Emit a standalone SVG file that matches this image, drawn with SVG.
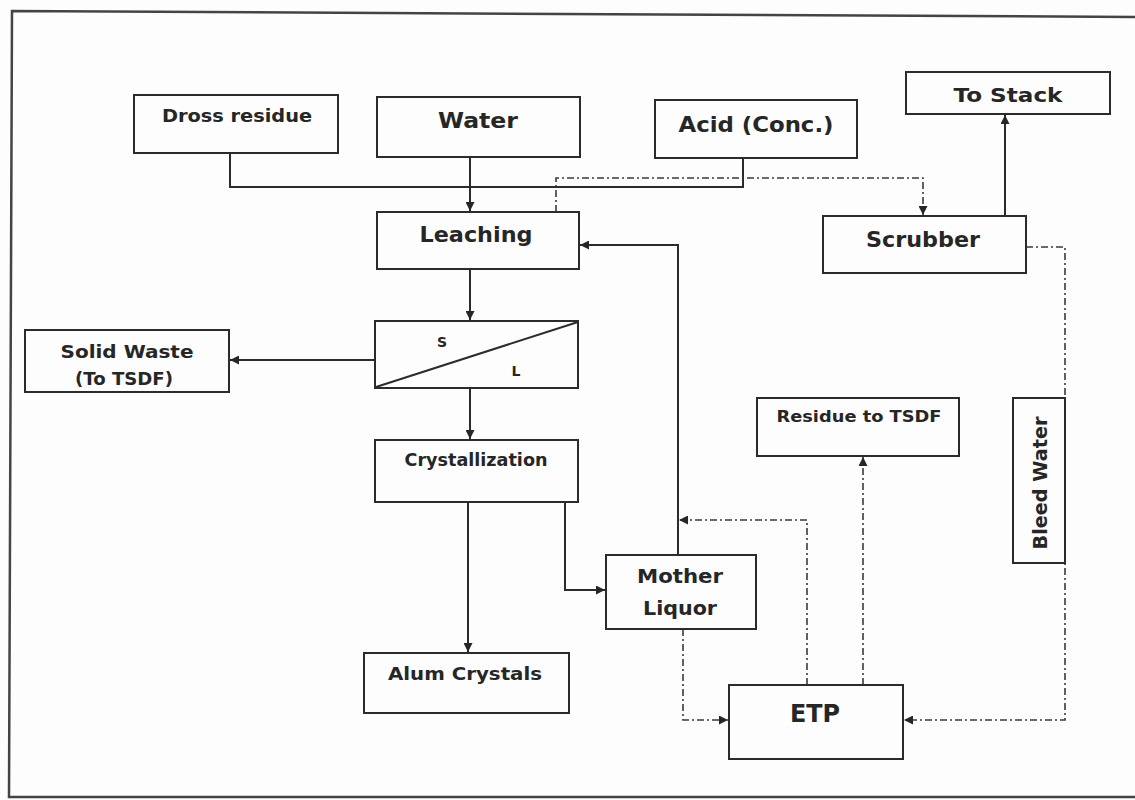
<svg xmlns="http://www.w3.org/2000/svg" width="1135" height="800" viewBox="0 0 1135 800">
<defs>
<style>
.box{fill:#fdfdfd;stroke:#2b2b2b;stroke-width:2}
.t{font-family:"DejaVu Sans","Liberation Sans",sans-serif;font-weight:bold;fill:#262626;text-anchor:middle}
.c{fill:none;stroke:#2b2b2b;stroke-width:2}
.d{fill:none;stroke:#3a3a3a;stroke-width:1.6;stroke-dasharray:7 3 2 3}
</style>
<marker id="ar" viewBox="0 0 10 10" refX="10" refY="5" markerWidth="9" markerHeight="9" markerUnits="userSpaceOnUse" orient="auto">
<path d="M0,0 L10,5 L0,10 z" fill="#262626"/>
</marker>
</defs>
<rect x="0" y="0" width="1135" height="800" fill="#fdfdfd"/>
<path d="M1135,17 L12,11 L9,797 L1135,797" fill="none" stroke="#444" stroke-width="2.5"/>

<g id="connectors">
<path class="c" d="M230,153 V187 H743 V158"/>
<path class="c" d="M470,157 V211" marker-end="url(#ar)"/>
<path class="c" d="M470,269 V320" marker-end="url(#ar)"/>
<path class="c" d="M375,360 H230" marker-end="url(#ar)"/>
<path class="c" d="M470,388 V439" marker-end="url(#ar)"/>
<path class="c" d="M468,502 V652" marker-end="url(#ar)"/>
<path class="c" d="M565,502 V590 H605" marker-end="url(#ar)"/>
<path class="c" d="M678,555 V245 H580" marker-end="url(#ar)"/>
<path class="c" d="M1005,216 V115" marker-end="url(#ar)"/>
<path class="d" d="M556,212 V178 H923 V215" marker-end="url(#ar)"/>
<path class="d" d="M1026,247 H1065 V720 H904" marker-end="url(#ar)"/>
<path class="d" d="M807,685 V520 H679" marker-end="url(#ar)"/>
<path class="d" d="M863,685 V457" marker-end="url(#ar)"/>
<path class="d" d="M683,629 V720 H728" marker-end="url(#ar)"/>
</g>

<g id="dross">
<rect class="box" x="134" y="95" width="204" height="58"/>
<text class="t" x="237" y="122" font-size="17" textLength="150" lengthAdjust="spacingAndGlyphs">Dross residue</text>
</g>
<g id="water">
<rect class="box" x="377" y="97" width="203" height="60"/>
<text class="t" x="478" y="128" font-size="21" textLength="80" lengthAdjust="spacingAndGlyphs">Water</text>
</g>
<g id="acid">
<rect class="box" x="655" y="100" width="202" height="58"/>
<text class="t" x="756" y="132" font-size="21" textLength="155" lengthAdjust="spacingAndGlyphs">Acid (Conc.)</text>
</g>
<g id="tostack">
<rect class="box" x="906" y="72" width="204" height="42"/>
<text class="t" x="1008" y="102" font-size="20" textLength="109" lengthAdjust="spacingAndGlyphs">To Stack</text>
</g>
<g id="leaching">
<rect class="box" x="377" y="212" width="202" height="57"/>
<text class="t" x="476" y="242" font-size="21" textLength="113" lengthAdjust="spacingAndGlyphs">Leaching</text>
</g>
<g id="scrubber">
<rect class="box" x="823" y="216" width="203" height="57"/>
<text class="t" x="923" y="247" font-size="21" textLength="114" lengthAdjust="spacingAndGlyphs">Scrubber</text>
</g>
<g id="separator">
<rect class="box" x="375" y="321" width="203" height="67"/>
<line x1="376" y1="387" x2="578" y2="322" stroke="#2b2b2b" stroke-width="2"/>
<text class="t" x="442" y="347" font-size="14">S</text>
<text class="t" x="516" y="376" font-size="14">L</text>
</g>
<g id="solidwaste">
<rect class="box" x="25" y="330" width="204" height="62"/>
<text class="t" x="127" y="358" font-size="17" textLength="133" lengthAdjust="spacingAndGlyphs">Solid Waste</text>
<text class="t" x="124" y="385" font-size="17" textLength="98" lengthAdjust="spacingAndGlyphs">(To TSDF)</text>
</g>
<g id="crystallization">
<rect class="box" x="375" y="440" width="203" height="62"/>
<text class="t" x="476" y="466" font-size="17" textLength="143" lengthAdjust="spacingAndGlyphs">Crystallization</text>
</g>
<g id="motherliquor">
<rect class="box" x="606" y="555" width="150" height="74"/>
<text class="t" x="680" y="583" font-size="19" textLength="86" lengthAdjust="spacingAndGlyphs">Mother</text>
<text class="t" x="680" y="615" font-size="19" textLength="74" lengthAdjust="spacingAndGlyphs">Liquor</text>
</g>
<g id="alum">
<rect class="box" x="364" y="653" width="205" height="60"/>
<text class="t" x="465" y="680" font-size="18" textLength="154" lengthAdjust="spacingAndGlyphs">Alum Crystals</text>
</g>
<g id="residue">
<rect class="box" x="757" y="398" width="202" height="58"/>
<text class="t" x="859" y="422" font-size="16" textLength="165" lengthAdjust="spacingAndGlyphs">Residue to TSDF</text>
</g>
<g id="bleed">
<rect class="box" x="1013" y="398" width="52" height="165"/>
<text class="t" transform="translate(1047,483) rotate(-90)" x="0" y="0" font-size="20" textLength="133" lengthAdjust="spacingAndGlyphs">Bleed Water</text>
</g>
<g id="etp">
<rect class="box" x="729" y="685" width="174" height="74"/>
<text class="t" x="815" y="722" font-size="25" textLength="50" lengthAdjust="spacingAndGlyphs">ETP</text>
</g>
</svg>
